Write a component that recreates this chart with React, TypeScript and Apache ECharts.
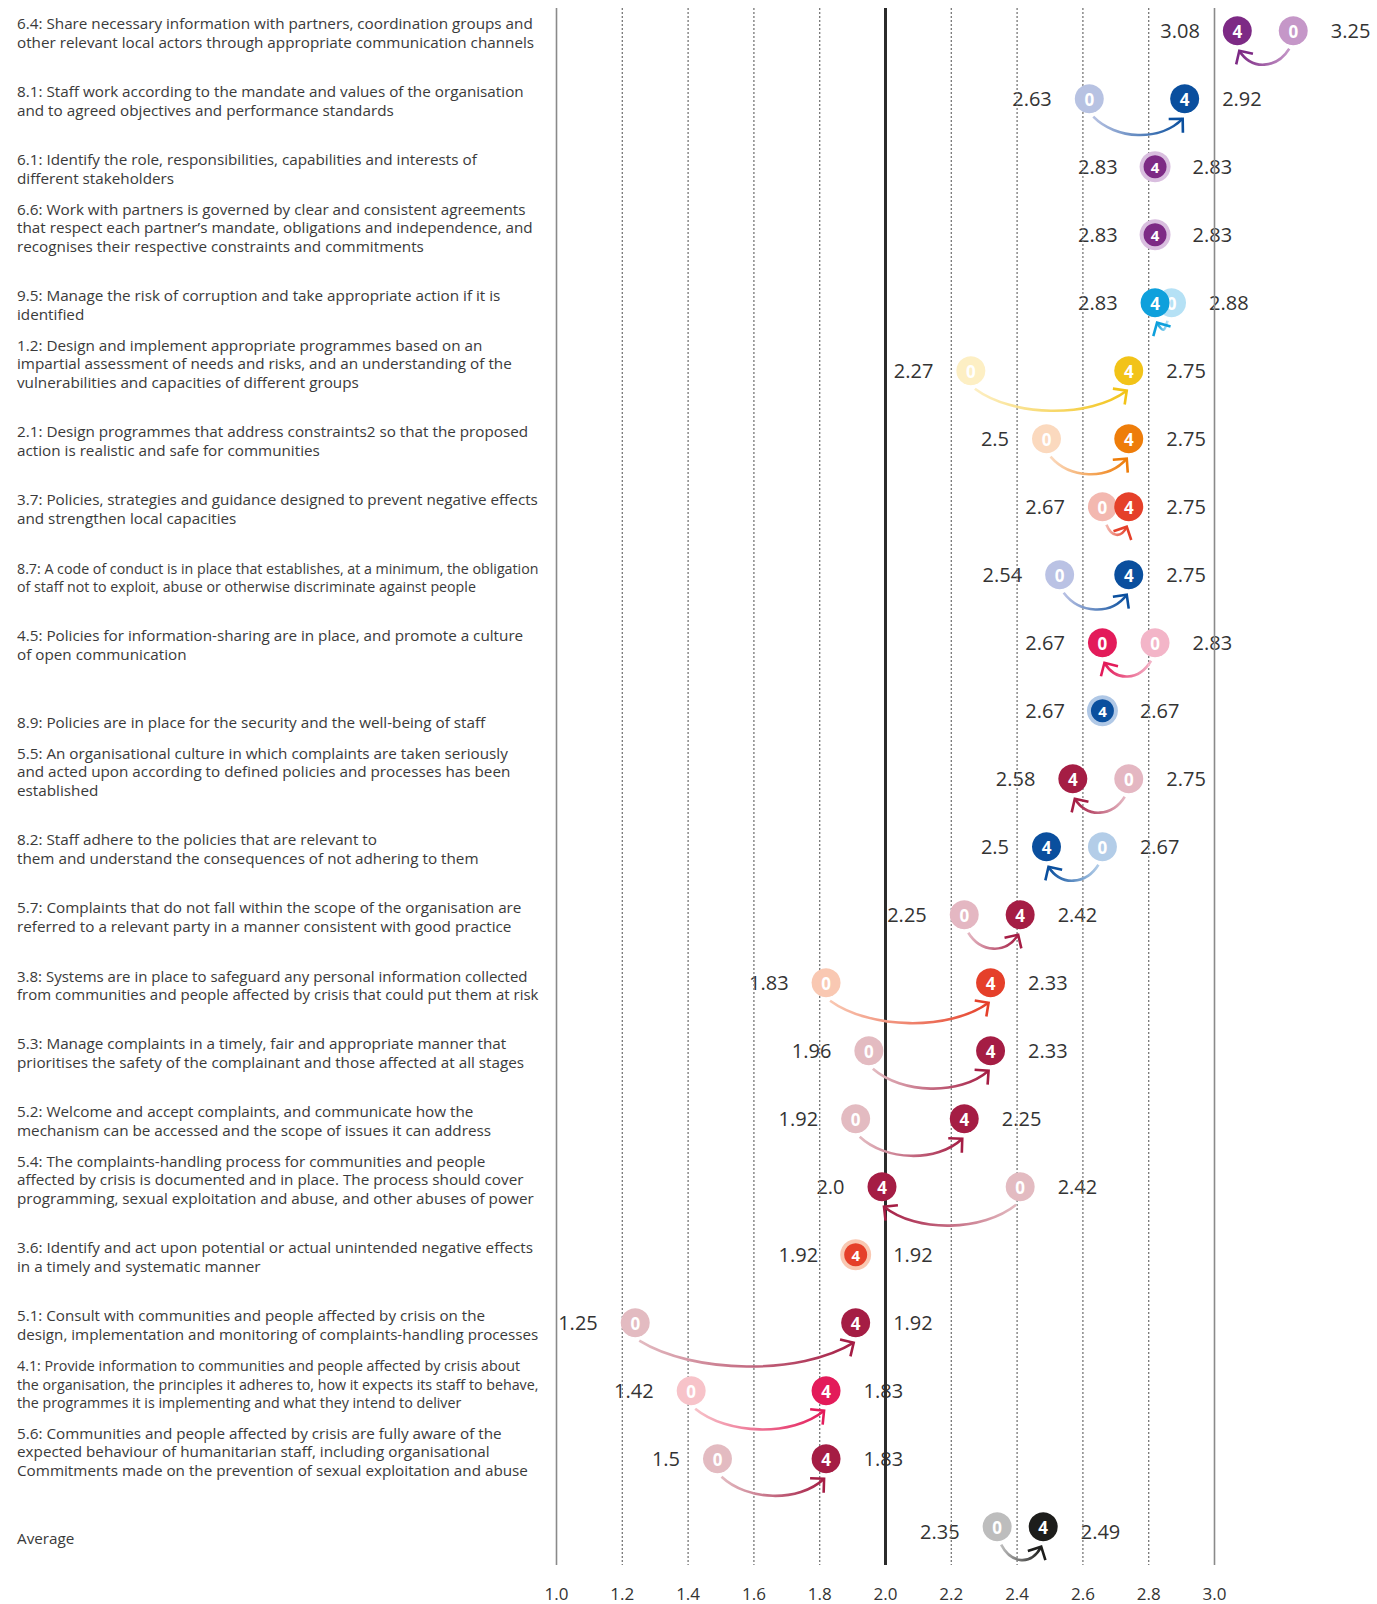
import React, { useEffect, useRef } from "react";
import * as echarts from "echarts";

const categories: string[] = [
  "6.4: Share necessary information with partners, coordination groups and\nother relevant local actors through appropriate communication channels",
  "8.1: Staff work according to the mandate and values of the organisation\nand to agreed objectives and performance standards",
  "6.1: Identify the role, responsibilities, capabilities and interests of\ndifferent stakeholders",
  "6.6: Work with partners is governed by clear and consistent agreements\nthat respect each partner’s mandate, obligations and independence, and\nrecognises their respective constraints and commitments",
  "9.5: Manage the risk of corruption and take appropriate action if it is\nidentified",
  "1.2: Design and implement appropriate programmes based on an\nimpartial assessment of needs and risks, and an understanding of the\nvulnerabilities and capacities of different groups",
  "2.1: Design programmes that address constraints2 so that the proposed\naction is realistic and safe for communities",
  "3.7: Policies, strategies and guidance designed to prevent negative effects\nand strengthen local capacities",
  "8.7: A code of conduct is in place that establishes, at a minimum, the obligation\nof staff not to exploit, abuse or otherwise discriminate against people",
  "4.5: Policies for information-sharing are in place, and promote a culture\nof open communication",
  "8.9: Policies are in place for the security and the well-being of staff",
  "5.5: An organisational culture in which complaints are taken seriously\nand acted upon according to defined policies and processes has been\nestablished",
  "8.2: Staff adhere to the policies that are relevant to\nthem and understand the consequences of not adhering to them",
  "5.7: Complaints that do not fall within the scope of the organisation are\nreferred to a relevant party in a manner consistent with good practice",
  "3.8: Systems are in place to safeguard any personal information collected\nfrom communities and people affected by crisis that could put them at risk",
  "5.3: Manage complaints in a timely, fair and appropriate manner that\nprioritises the safety of the complainant and those affected at all stages",
  "5.2: Welcome and accept complaints, and communicate how the\nmechanism can be accessed and the scope of issues it can address",
  "5.4: The complaints-handling process for communities and people\naffected by crisis is documented and in place. The process should cover\nprogramming, sexual exploitation and abuse, and other abuses of power",
  "3.6: Identify and act upon potential or actual unintended negative effects\nin a timely and systematic manner",
  "5.1: Consult with communities and people affected by crisis on the\ndesign, implementation and monitoring of complaints-handling processes",
  "4.1: Provide information to communities and people affected by crisis about\nthe organisation, the principles it adheres to, how it expects its staff to behave,\nthe programmes it is implementing and what they intend to deliver",
  "5.6: Communities and people affected by crisis are fully aware of the\nexpected behaviour of humanitarian staff, including organisational\nCommitments made on the prevention of sexual exploitation and abuse",
  "Average",
];

// score at round 0 and at round 4
const score0: number[] = [3.25, 2.63, 2.83, 2.83, 2.88, 2.27, 2.5, 2.67, 2.54, 2.83, 2.67, 2.75, 2.67, 2.25, 1.83, 1.96, 1.92, 2.42, 1.92, 1.25, 1.42, 1.5, 2.35];
const score4: number[] = [3.08, 2.92, 2.83, 2.83, 2.83, 2.75, 2.75, 2.75, 2.75, 2.67, 2.67, 2.58, 2.5, 2.42, 2.33, 2.33, 2.25, 2.0, 1.92, 1.92, 1.83, 1.83, 2.49];

// text printed inside the dark (round 4) marker
const darkMarkerText: string[] = ["4", "4", "4", "4", "4", "4", "4", "4", "4", "0", "4", "4", "4", "4", "4", "4", "4", "4", "4", "4", "4", "4", "4"];

const darkColors: string[] = [
  "#7D2A85", "#0A4F9E", "#7D2A85", "#7D2A85", "#0EA0DC", "#F2C318", "#EE7D0A", "#E5402A",
  "#0A4F9E", "#E31B5A", "#0A4F9E", "#A51D44", "#0A4F9E", "#A51D44", "#E5402A", "#A51D44",
  "#A51D44", "#A51D44", "#E5402A", "#A51D44", "#E31B5A", "#A51D44", "#1D1D1B",
];
const lightColors: string[] = [
  "#C597C8", "#B7C2E2", "#D9BEDF", "#D9BEDF", "#B5E1F5", "#FDEFC4", "#FBD9BE", "#F3B8B0",
  "#BAC2E4", "#F3B5C8", "#B0C8E6", "#E4B7C2", "#B3CDE8", "#E4B7C2", "#F9C8B2", "#E3BBC1",
  "#E3BBC1", "#E3BBC1", "#F9C8B2", "#E3BBC1", "#F7C3C9", "#E3BBC1", "#BDBDBD",
];

const xTicks: number[] = [1.0, 1.2, 1.4, 1.6, 1.8, 2.0, 2.2, 2.4, 2.6, 2.8, 3.0];

const Y_MIN = -0.334;
const Y_MAX = 22.563;
const FONT = "'Open Sans', 'Noto Sans', sans-serif";
const CAT_FONT_SIZE = 15.25;
const CAT_MAX_WIDTH = 522;
const DX = -3.5; // small horizontal nudge of the markers, as in the original

function fmt(v: number): string {
  return Number.isInteger(v) ? v.toFixed(1) : String(v);
}

function catScale(text: string): number {
  const c = document.createElement("canvas");
  const ctx = c.getContext("2d");
  if (!ctx) return 1;
  ctx.font = `${CAT_FONT_SIZE}px 'Open Sans'`;
  let w = 0;
  for (const line of text.split("\n")) w = Math.max(w, ctx.measureText(line).width);
  return w > CAT_MAX_WIDTH ? CAT_MAX_WIDTH / w : 1;
}

export default function App() {
  const ref = useRef<HTMLDivElement>(null);

  useEffect(() => {
    if (!ref.current) return;
    const chart = echarts.init(ref.current, null, { renderer: "svg" });

    const rowData = categories.map((_, i) => [score0[i], score4[i], i]);
    const scales = categories.map((c) => catScale(c));
    const lastIdx = categories.length - 1;

    const option: any = {
      animation: false,
      backgroundColor: "#ffffff",
      grid: { left: 556.5, right: 162.5, top: 8, bottom: 39 },
      xAxis: {
        type: "value",
        min: 1.0,
        max: 3.0,
        interval: 0.2,
        axisLine: { show: false },
        axisTick: { show: false },
        splitLine: { show: false },
        axisLabel: {
          formatter: (v: number) => v.toFixed(1),
          fontSize: 17,
          lineHeight: 18,
          color: "#333333",
          fontFamily: FONT,
          margin: 19,
        },
      },
      yAxis: {
        type: "value",
        inverse: true,
        min: Y_MIN,
        max: Y_MAX,
        show: false,
      },
      series: [
        // category labels
        {
          type: "custom",
          clip: false,
          z: 1,
          data: categories.map((_, i) => [1, i]),
          renderItem: (params: any, api: any) => {
            const i = api.value(1);
            const p = api.coord([1, i]);
            return {
              type: "text",
              x: 17,
              y: p[1] + 20.5,
              scaleX: scales[i],
              style: {
                text: categories[i],
                fontSize: CAT_FONT_SIZE,
                lineHeight: 18.5,
                fontFamily: FONT,
                fill: "#3a3a3a",
                align: "left",
                verticalAlign: "bottom",
              },
            };
          },
        },
        // value labels
        {
          type: "custom",
          clip: false,
          z: 2,
          data: rowData,
          renderItem: (params: any, api: any) => {
            const a = api.value(0);
            const b = api.value(1);
            const i = api.value(2);
            const lo = Math.min(a, b);
            const hi = Math.max(a, b);
            const pl = api.coord([lo, i]);
            const ph = api.coord([hi, i]);
            const yOff = i === lastIdx ? 5 : 0;
            return {
              type: "group",
              children: [
                {
                  type: "text",
                  x: pl[0] + DX - 37.5,
                  y: pl[1] + yOff,
                  style: { text: fmt(lo), fontSize: 20, fontFamily: FONT, fill: "#333333", align: "right", verticalAlign: "middle" },
                },
                {
                  type: "text",
                  x: ph[0] + DX + 37.5,
                  y: ph[1] + yOff,
                  style: { text: fmt(hi), fontSize: 20, fontFamily: FONT, fill: "#333333", align: "left", verticalAlign: "middle" },
                },
              ],
            };
          },
        },
        // vertical grid lines
        {
          type: "custom",
          clip: false,
          z: 3,
          data: xTicks.map((v) => [v]),
          renderItem: (params: any, api: any) => {
            const v = api.value(0);
            const t = api.coord([v, Y_MIN]);
            const b = api.coord([v, Y_MAX]);
            let style: any;
            if (Math.abs(v - 2) < 1e-6) {
              style = { stroke: "#2b2b2b", lineWidth: 3 };
            } else if (Math.abs(v - 1) < 1e-6 || Math.abs(v - 3) < 1e-6) {
              style = { stroke: "#8a8a8a", lineWidth: 1.6 };
            } else {
              style = { stroke: "#777777", lineWidth: 1.3, lineDash: [2, 2] };
            }
            return {
              type: "line",
              shape: { x1: t[0], y1: t[1], x2: b[0], y2: b[1] },
              style,
            };
          },
        },
        // arrows and markers
        {
          type: "custom",
          clip: false,
          z: 4,
          data: rowData,
          renderItem: (params: any, api: any) => {
            const v0 = api.value(0);
            const v4 = api.value(1);
            const i = api.value(2);
            const p0 = api.coord([v0, i]);
            const p4 = api.coord([v4, i]);
            const x0 = p0[0] + DX;
            const x4 = p4[0] + DX;
            const y = p0[1];
            const dark = darkColors[i];
            const light = lightColors[i];
            const children: any[] = [];
            const R = 14.5;
            const numStyle = (t: string, fs: number) => ({
              text: t, fill: "#ffffff", fontSize: fs, fontWeight: "bold", fontFamily: FONT, align: "center", verticalAlign: "middle",
            });
            if (Math.abs(v0 - v4) < 1e-9) {
              children.push({ type: "circle", shape: { cx: x4, cy: y, r: 15.5 }, style: { fill: light } });
              children.push({ type: "circle", shape: { cx: x4, cy: y, r: 11.5 }, style: { fill: dark } });
              children.push({ type: "text", x: x4, y: y + 0.5, style: numStyle(darkMarkerText[i], 15) });
            } else {
              const dir = v4 > v0 ? 1 : -1;
              const sx = x0 + dir * 4;
              const sy = y + 18;
              const ex = x4 - dir * 2;
              const ey = y + 20;
              const span = Math.abs(ex - sx);
              const dip = Math.max(8, Math.min(0.45 * span, 12 + 0.06 * span));
              const k = dip * 1.33;
              const c1x = sx + dir * 0.25 * span;
              const c1y = sy + k;
              const c2x = ex - dir * Math.max(0.25 * span, 6);
              const c2y = ey + k;
              children.push({
                type: "bezierCurve",
                shape: { x1: sx, y1: sy, x2: ex, y2: ey, cpx1: c1x, cpy1: c1y, cpx2: c2x, cpy2: c2y },
                style: {
                  fill: null,
                  lineWidth: 2.6,
                  stroke: {
                    type: "linear",
                    x: dir > 0 ? 0 : 1, y: 0, x2: dir > 0 ? 1 : 0, y2: 0,
                    colorStops: [
                      { offset: 0, color: light },
                      { offset: 1, color: dark },
                    ],
                  },
                },
              });
              // arrow head
              let tx = ex - c2x;
              let ty = ey - c2y;
              const len = Math.sqrt(tx * tx + ty * ty) || 1;
              tx /= len;
              ty /= len;
              const bx = -tx;
              const by = -ty;
              const ang = Math.PI / 4;
              const L = 14;
              const rot = (px: number, py: number, a: number) => [px * Math.cos(a) - py * Math.sin(a), px * Math.sin(a) + py * Math.cos(a)];
              const a1 = rot(bx, by, ang);
              const a2 = rot(bx, by, -ang);
              children.push({
                type: "polyline",
                shape: { points: [[ex + a1[0] * L, ey + a1[1] * L], [ex, ey], [ex + a2[0] * L, ey + a2[1] * L]] },
                style: { fill: null, stroke: dark, lineWidth: 2.6 },
              });
              // light (round 0) marker
              children.push({ type: "circle", shape: { cx: x0, cy: y, r: R }, style: { fill: light } });
              children.push({ type: "text", x: x0, y: y + 0.5, style: numStyle("0", 17) });
              // dark (round 4) marker
              children.push({ type: "circle", shape: { cx: x4, cy: y, r: R }, style: { fill: dark } });
              children.push({ type: "text", x: x4, y: y + 0.5, style: numStyle(darkMarkerText[i], 17) });
            }
            return { type: "group", children };
          },
        },
      ],
    };

    chart.setOption(option);
    return () => {
      chart.dispose();
    };
  }, []);

  return (
    <div
      ref={ref}
      style={{ position: "absolute", left: 0, top: 0, width: 1377, height: 1604, background: "#fff" }}
    />
  );
}
